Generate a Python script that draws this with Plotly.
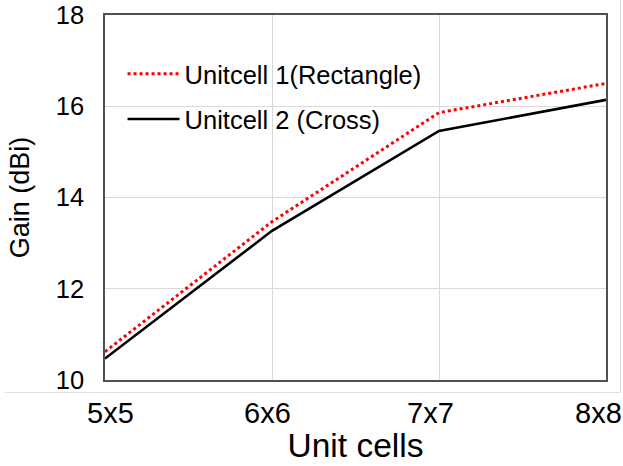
import plotly.graph_objects as go

# Array sizes and simulated peak gain for the two unit-cell designs
unit_cells = ["5x5", "6x6", "7x7", "8x8"]
gain_rectangle = [10.62, 13.47, 15.86, 16.50]
gain_cross = [10.47, 13.27, 15.46, 16.14]

series_names = ["Unitcell 1(Rectangle)", "Unitcell 2 (Cross)"]
y_ticks = [10, 12, 14, 16, 18]

FONT = "Liberation Sans, Arial, sans-serif"

# category labels are nudged so the outer ones stay inside the canvas
label_nudge = [5, -5, -8.5, -8]

fig = go.Figure()
fig.add_trace(go.Scatter(
    x=unit_cells, y=gain_rectangle, name=series_names[0], mode="lines",
    line=dict(color="#ff0000", width=3, dash="dot"), legendgroup="a",
))
fig.add_trace(go.Scatter(
    x=unit_cells, y=gain_cross, name=series_names[1], mode="lines",
    line=dict(color="#000000", width=2.6), legendgroup="b",
))

for cat, dx in zip(unit_cells, label_nudge):
    fig.add_annotation(
        x=cat, xref="x", y=-0.0915, yref="paper",
        text=cat, showarrow=False, xanchor="center", yanchor="middle",
        xshift=dx, font=dict(size=29, family=FONT, color="#000000"),
    )

# light outer border of the chart area
fig.add_shape(type="line", xref="paper", yref="paper",
              x0=-0.2, x1=1.029, y0=-0.034, y1=-0.034,
              line=dict(color="#dcdcdc", width=1))
fig.add_shape(type="line", xref="paper", yref="paper",
              x0=1.029, x1=1.029, y0=-0.034, y1=1.05,
              line=dict(color="#dcdcdc", width=1))

fig.update_layout(
    width=623, height=466,
    margin=dict(l=105, r=17, t=15, b=86, autoexpand=False),
    paper_bgcolor="white", plot_bgcolor="white",
    font=dict(family=FONT, color="#000000"),
    showlegend=True,
    legend=dict(
        x=0.035, y=0.902, xanchor="left", yanchor="top",
        bgcolor="rgba(0,0,0,0)", borderwidth=0,
        font=dict(size=25.5, family=FONT),
        itemwidth=52, tracegroupgap=9,
    ),
    xaxis=dict(
        type="category", range=[0, 3], automargin=False,
        showgrid=True, gridcolor="#d9d9d9", gridwidth=1,
        showline=True, linecolor="#505050", linewidth=1.5, mirror=True,
        ticks="", showticklabels=False,
        title=dict(text="Unit cells", font=dict(size=33.5), standoff=53),
        zeroline=False,
    ),
    yaxis=dict(
        range=[10, 18], tickvals=y_ticks, automargin=False,
        showgrid=True, gridcolor="#d9d9d9", gridwidth=1,
        showline=True, linecolor="#505050", linewidth=1.5, mirror=True,
        ticks="", tickfont=dict(size=25.5), ticklabelstandoff=14,
        title=dict(text="Gain (dBi)", font=dict(size=27), standoff=18),
        zeroline=False,
    ),
)

fig.write_html("out.html")
